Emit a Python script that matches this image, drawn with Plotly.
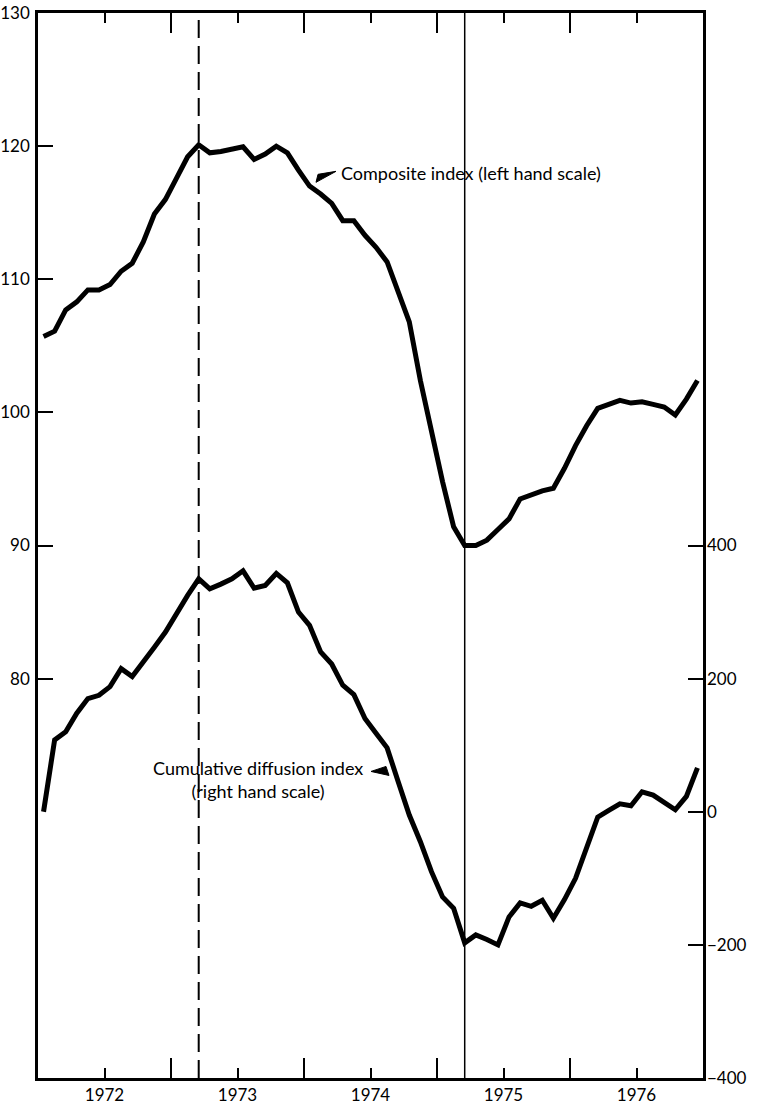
import plotly.graph_objects as go

# Monthly data, Jan 1972 .. Dec 1976 (plotted at mid-month)
years = [1972, 1973, 1974, 1975, 1976]
composite_index = [
    105.7, 106.1, 107.7, 108.3, 109.2, 109.2, 109.6, 110.6, 111.2, 112.8, 114.9, 116.0,
    117.6, 119.2, 120.1, 119.5, 119.6, 119.75, 119.95, 119.0, 119.4, 120.0, 119.5, 118.2,
    117.0, 116.4, 115.7, 114.4, 114.4, 113.3, 112.4, 111.3, 109.0, 106.8, 102.4, 98.4,
    94.8, 91.4, 90.0, 90.0, 90.4, 91.2, 92.0, 93.5, 93.8, 94.1, 94.3, 95.8,
    97.5, 99.0, 100.3, 100.6, 100.9, 100.7, 100.8, 100.6, 100.4, 99.8, 101.0, 102.4,
]
diffusion_index = [
    0, 108, 120, 148, 170, 175, 188, 215, 203, 224, 247, 270,
    298, 325, 350, 335, 342, 350, 362, 336, 340, 358, 344, 300,
    280, 240, 222, 190, 176, 140, 118, 96, 45, -5, -45, -90,
    -128, -145, -197, -185, -192, -200, -158, -137, -142, -133, -160, -132,
    -100, -55, -8, 2, 12, 9, 30, 25, 14, 3, 23, 66,
]
months = [y + (m + 0.5) / 12 for y in years for m in range(12)]

peak_date = 1973 + 2.5 / 12      # March 1973 (dashed)
trough_date = 1975 + 2.5 / 12    # March 1975 (solid)

left_ticks = [80, 90, 100, 110, 120, 130]
right_ticks = [-400, -200, 0, 200, 400]
year_labels = [str(y) for y in years]

FONT = "Lato"

fig = go.Figure()
fig.add_trace(go.Scatter(x=months, y=composite_index, mode="lines",
                         line=dict(color="black", width=5), yaxis="y", xaxis="x"))
fig.add_trace(go.Scatter(x=months, y=diffusion_index, mode="lines",
                         line=dict(color="black", width=5), yaxis="y2", xaxis="x"))
# dummy trace for the year-boundary tick axis
fig.add_trace(go.Scatter(x=[1972, 1977], y=[50, 50], mode="lines",
                         line=dict(width=0), xaxis="x2", yaxis="y", hoverinfo="skip"))

fig.add_shape(type="line", x0=peak_date, x1=peak_date, y0=0, y1=1, xref="x", yref="paper",
              line=dict(color="black", width=2, dash="18px,8px"))
fig.add_shape(type="line", x0=trough_date, x1=trough_date, y0=0, y1=1, xref="x", yref="paper",
              line=dict(color="black", width=1.5))

def px2x(px):
    return 1972 + (px - 38) / 133.0

def py2y(py):
    return 100 + (413 - py) / 13.31

# pointer wedges
wedges = [
    [(316, 183), (318, 175), (336, 172)],
    [(371, 772), (386, 767), (389, 776)],
]
for w in wedges:
    path = "M {} {} L {} {} L {} {} Z".format(px2x(w[0][0]), py2y(w[0][1]),
                                               px2x(w[1][0]), py2y(w[1][1]),
                                               px2x(w[2][0]), py2y(w[2][1]))
    fig.add_shape(type="path", path=path, xref="x", yref="y",
                  fillcolor="black", line=dict(color="black", width=1))

fig.add_annotation(x=px2x(339), y=py2y(174), xref="x", yref="y",
                   text="Composite index (left hand scale)", showarrow=False,
                   xanchor="left", yanchor="middle",
                   font=dict(family=FONT, size=18, color="black"))
fig.add_annotation(x=px2x(258), y=py2y(780), xref="x", yref="y",
                   text="Cumulative diffusion index<br>(right hand scale)", showarrow=False,
                   xanchor="center", yanchor="middle", align="center",
                   font=dict(family=FONT, size=18, color="black"))

fig.update_layout(
    width=759, height=1106,
    margin=dict(l=38, r=56, t=13, b=28, autoexpand=False),
    paper_bgcolor="white", plot_bgcolor="white",
    showlegend=False,
    font=dict(family=FONT, size=17, color="black"),
    xaxis=dict(range=[1972, 1977], tickvals=[y + 0.5 for y in years], ticktext=year_labels,
               ticks="inside", ticklen=10, tickwidth=2, tickcolor="black",
               showline=True, linewidth=2.5, linecolor="black", mirror="ticks",
               showgrid=False, zeroline=False, tickfont=dict(size=17), automargin=False),
    xaxis2=dict(range=[1972, 1977], overlaying="x", anchor="y", side="bottom",
                tickvals=[1973, 1974, 1975, 1976], showticklabels=False,
                ticks="inside", ticklen=20, tickwidth=2, tickcolor="black",
                showline=False, mirror="ticks", showgrid=False, zeroline=False,
                automargin=False),
    yaxis=dict(range=[50, 130], tickvals=left_ticks, ticks="inside", ticklen=15,
               tickwidth=2, tickcolor="black", showline=True, linewidth=2.5,
               linecolor="black", mirror=True, showgrid=False, zeroline=False,
               tickfont=dict(size=17), automargin=False, ticklabelstandoff=2),
    yaxis2=dict(range=[-400, 1200], tickvals=right_ticks, overlaying="y", side="right",
                anchor="x", ticks="inside", ticklen=15, tickwidth=2, tickcolor="black",
                showline=False, showgrid=False, zeroline=False,
                tickfont=dict(size=17), automargin=False, ticklabelstandoff=3),
)

fig.write_html("out.html", config={"displayModeBar": False},
               post_script="document.body.style.margin='0px';document.body.style.overflow='hidden';")
